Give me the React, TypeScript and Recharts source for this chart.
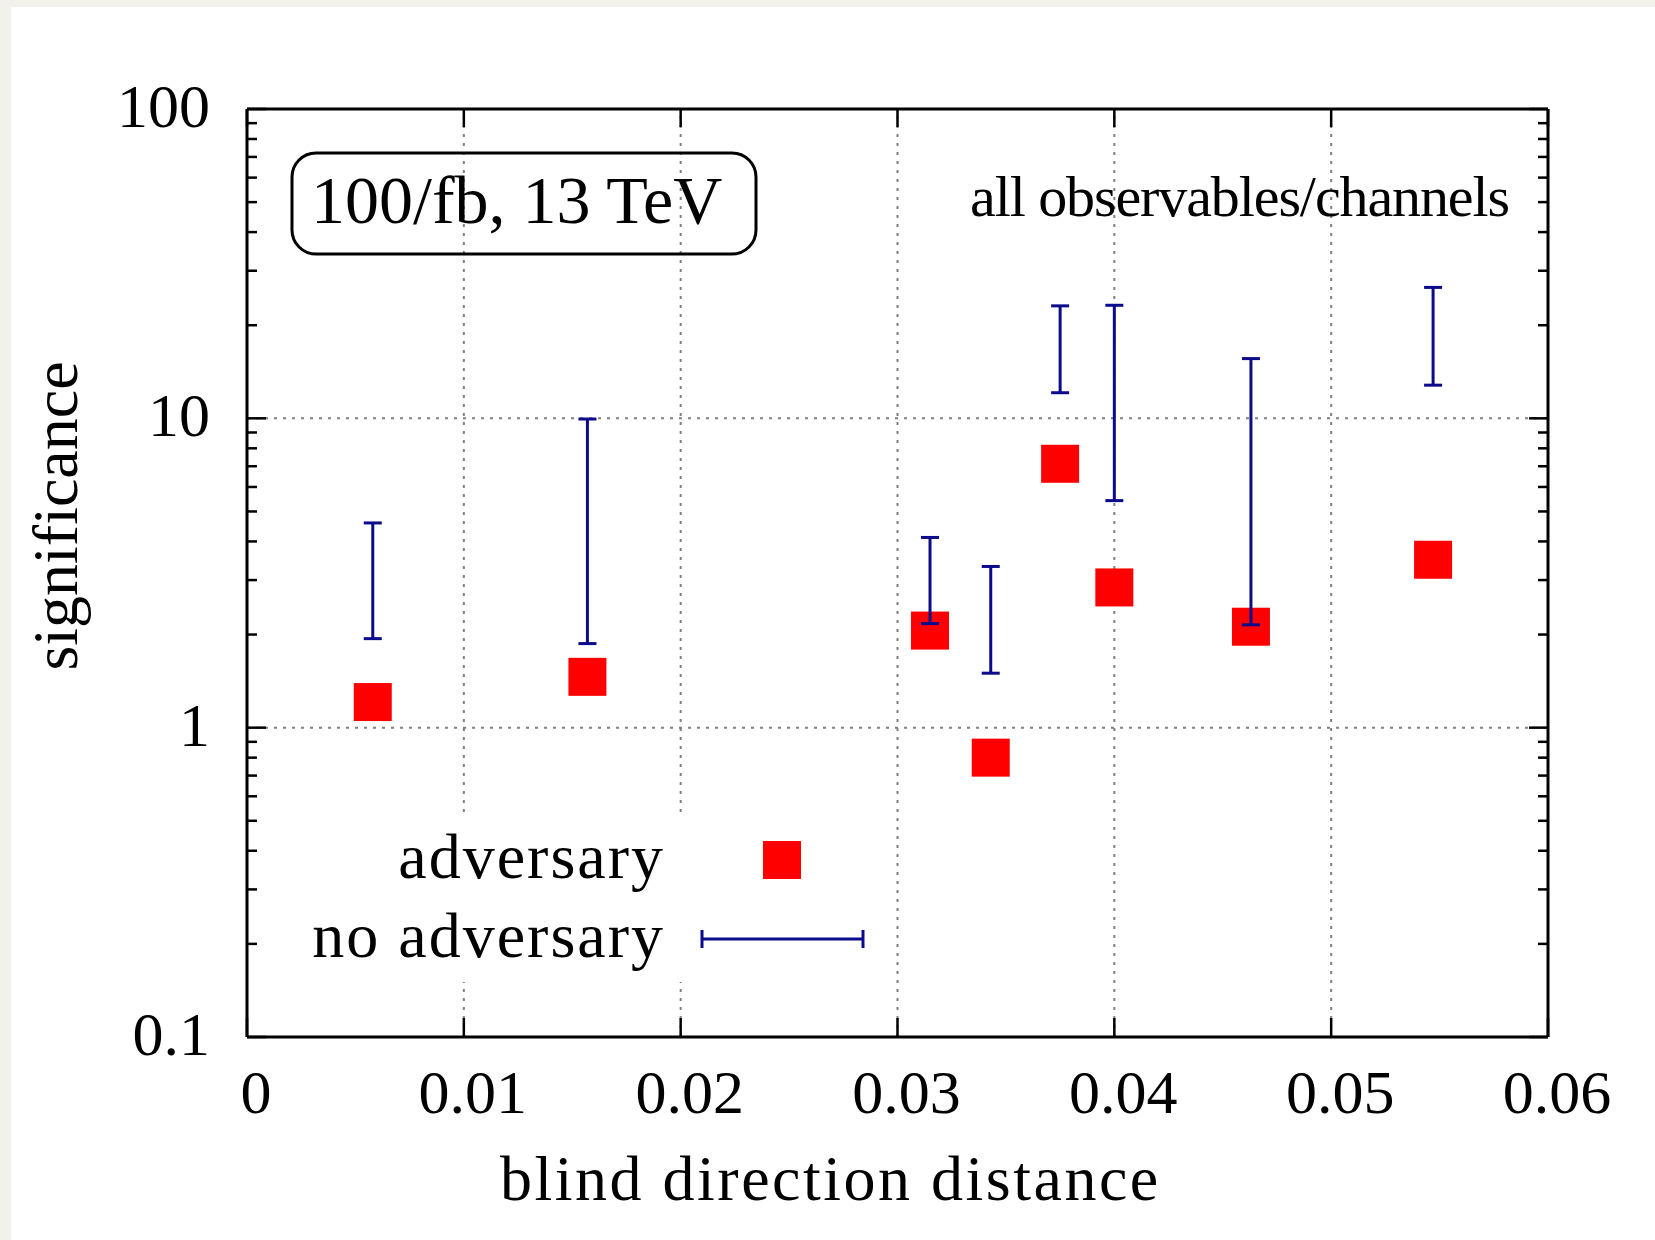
import React from "react";
import { ScatterChart, Scatter, XAxis, YAxis, ErrorBar, ReferenceLine, Legend } from "recharts";

// blind direction distance of each test point
const distance = [0.0058, 0.0157, 0.0315, 0.0343, 0.0375, 0.04, 0.0463, 0.0547];
// significance with adversary (red squares)
const adversary = [1.21, 1.46, 2.06, 0.8, 7.13, 2.84, 2.12, 3.49];
// significance range without adversary (blue bars)
const noAdversaryLow = [1.94, 1.87, 2.17, 1.5, 12.1, 5.42, 2.15, 12.8];
const noAdversaryHigh = [4.59, 9.95, 4.12, 3.32, 23.1, 23.2, 15.6, 26.5];

const xTicks = [0, 0.01, 0.02, 0.03, 0.04, 0.05, 0.06];
const xTickLabels = ["0", "0.01", "0.02", "0.03", "0.04", "0.05", "0.06"];
const xGrid = [0.01, 0.02, 0.03, 0.04, 0.05];
const yMajor = [0.1, 1, 10, 100];
const yTickLabels = ["0.1", "1", "10", "100"];
const yMinor = [0.2, 0.3, 0.4, 0.5, 0.6, 0.7, 0.8, 0.9, 2, 3, 4, 5, 6, 7, 8, 9, 20, 30, 40, 50, 60, 70, 80, 90];
const yGrid = [1, 10];

const W = 1655;
const H = 1240;
const PLOT = { left: 247, top: 109, right: 1548, bottom: 1037 };
const AX = 40; // space given to each axis
const FONT = '"Liberation Serif", "Times New Roman", serif';
const RED = "#ff0000";
const BLUE = "#0b0b8c";

const yTicks = [...yMajor, ...yMinor].sort((a, b) => a - b);

const advData = distance.map((x, i) => ({ x, y: adversary[i] }));
const barData = distance.map((x, i) => ({
  x,
  y: noAdversaryLow[i],
  err: [0, noAdversaryHigh[i] - noAdversaryLow[i]],
}));

function BottomTick(props: any) {
  const x = props.payload.coordinate;
  const label = xTickLabels[xTicks.indexOf(props.payload.value)];
  return (
    <g>
      <line x1={x} x2={x} y1={PLOT.bottom} y2={PLOT.bottom - 19} stroke="#000" strokeWidth={2.5} />
      <text x={x + 9} y={1113} textAnchor="middle" fontSize={62} fontFamily={FONT} fill="#000">
        {label}
      </text>
    </g>
  );
}

function TopTick(props: any) {
  const x = props.payload.coordinate;
  return <line x1={x} x2={x} y1={PLOT.top} y2={PLOT.top + 18} stroke="#000" strokeWidth={2.5} />;
}

function LeftTick(props: any) {
  const y = props.payload.coordinate;
  const idx = yMajor.indexOf(props.payload.value);
  const len = idx >= 0 ? 19 : 10;
  return (
    <g>
      <line x1={PLOT.left} x2={PLOT.left + len} y1={y} y2={y} stroke="#000" strokeWidth={2.5} />
      {idx >= 0 && (
        <text x={210} y={y + 18} textAnchor="end" fontSize={62} fontFamily={FONT} fill="#000">
          {yTickLabels[idx]}
        </text>
      )}
    </g>
  );
}

function RightTick(props: any) {
  const y = props.payload.coordinate;
  const len = yMajor.includes(props.payload.value) ? 19 : 10;
  return <line x1={PLOT.right} x2={PLOT.right - len} y1={y} y2={y} stroke="#000" strokeWidth={2.5} />;
}

const RedSquare = (p: any) => <rect x={p.cx - 19} y={p.cy - 19} width={38} height={38} fill={RED} />;
const NoMarker = () => <g />;

function KeyBox() {
  return (
    <svg width={590} height={164} style={{ display: "block" }}>
      <text x={375} y={60} textAnchor="end" fontSize={64} letterSpacing={2} fontFamily={FONT} fill="#000">
        adversary
      </text>
      <rect x={473} y={23} width={38} height={38} fill={RED} />
      <text x={375} y={139} textAnchor="end" fontSize={64} letterSpacing={2} fontFamily={FONT} fill="#000">
        no adversary
      </text>
      <g stroke={BLUE} strokeWidth={3}>
        <line x1={412} x2={573} y1={121} y2={121} />
        <line x1={412} x2={412} y1={112} y2={130} />
        <line x1={573} x2={573} y1={112} y2={130} />
      </g>
    </svg>
  );
}

const axisLine = { stroke: "#000", strokeWidth: 3 };

export default function App() {
  return (
    <div style={{ position: "absolute", left: 0, top: 0, width: W, height: H, background: "#f3f1ec" }}>
      <div style={{ position: "absolute", left: 11, top: 7, right: 0, bottom: 0, background: "#fff" }} />
      <div style={{ position: "absolute", left: 0, top: 0 }}>
        <ScatterChart
          width={W}
          height={H}
          margin={{
            top: PLOT.top - AX,
            left: PLOT.left - AX,
            right: W - PLOT.right - AX,
            bottom: H - PLOT.bottom - AX,
          }}
        >
          <XAxis
            xAxisId={0}
            type="number"
            dataKey="x"
            domain={[0, 0.06]}
            ticks={xTicks}
            interval={0}
            height={AX}
            allowDataOverflow
            axisLine={axisLine}
            tickLine={false}
            tick={<BottomTick />}
          />
          <XAxis
            xAxisId="top"
            orientation="top"
            type="number"
            dataKey="x"
            domain={[0, 0.06]}
            ticks={xTicks}
            interval={0}
            height={AX}
            allowDataOverflow
            axisLine={axisLine}
            tickLine={false}
            tick={<TopTick />}
          />
          <YAxis
            yAxisId={0}
            type="number"
            dataKey="y"
            scale="log"
            domain={[0.1, 100]}
            ticks={yTicks}
            interval={0}
            width={AX}
            allowDataOverflow
            axisLine={axisLine}
            tickLine={false}
            tick={<LeftTick />}
          />
          <YAxis
            yAxisId="right"
            orientation="right"
            type="number"
            dataKey="y"
            scale="log"
            domain={[0.1, 100]}
            ticks={yTicks}
            interval={0}
            width={AX}
            allowDataOverflow
            axisLine={axisLine}
            tickLine={false}
            tick={<RightTick />}
          />
          <Scatter name="adversary" data={advData} shape={RedSquare} isAnimationActive={false} zIndex={500} />
          {xGrid.map((v) => (
            <ReferenceLine key={"x" + v} x={v} stroke="#808080" strokeWidth={2} strokeDasharray="3 6" />
          ))}
          {yGrid.map((v) => (
            <ReferenceLine key={"y" + v} y={v} stroke="#808080" strokeWidth={2} strokeDasharray="3 6" />
          ))}
          <Scatter name="no adversary" data={barData} shape={NoMarker} isAnimationActive={false} zIndex={900}>
            <ErrorBar
              dataKey="err"
              direction="y"
              width={9}
              stroke={BLUE}
              strokeWidth={3}
              isAnimationActive={false}
              zIndex={1000}
            />
          </Scatter>
          <Legend
            layout="horizontal"
            verticalAlign="middle"
            align="center"
            wrapperStyle={{ position: "absolute", left: 290, top: 818, width: 590, height: 164, background: "#fff" }}
            content={() => <KeyBox />}
          />
        </ScatterChart>
      </div>
      <svg
        width={W}
        height={H}
        style={{ position: "absolute", left: 0, top: 0, pointerEvents: "none" }}
      >
        <rect x={292} y={153} width={464} height={101} rx={24} fill="none" stroke="#000" strokeWidth={3} />
        <text x={311} y={223} fontSize={68} fontFamily={FONT} fill="#000">
          100/fb, 13 TeV
        </text>
        <text x={1509} y={216} textAnchor="end" fontSize={58} letterSpacing={-1.1} fontFamily={FONT} fill="#000">
          all observables/channels
        </text>
        <text x={500} y={1200} fontSize={64} letterSpacing={2.5} fontFamily={FONT} fill="#000">
          blind direction distance
        </text>
        <text
          x={77}
          y={516}
          transform="rotate(-90, 77, 516)"
          textAnchor="middle"
          fontSize={64}
          fontFamily={FONT}
          fill="#000"
        >
          significance
        </text>
      </svg>
    </div>
  );
}
